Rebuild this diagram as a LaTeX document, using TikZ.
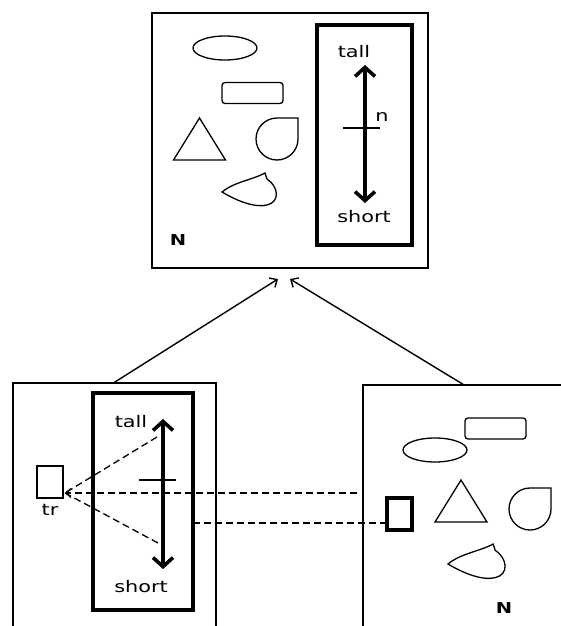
\documentclass[tikz,border=0pt]{standalone}
\usepackage{fontspec}
\newfontfamily\lblfont[FakeStretch=1.3]{DejaVu Sans}
\usetikzlibrary{arrows.meta,fit}

\tikzset{
  box/.style={draw,line width=1.4pt,inner sep=0pt},
  heavybox/.style={draw,line width=3.6pt,inner sep=0pt},
  lbl/.style={font=\lblfont\fontsize{16}{16}\selectfont,inner sep=0pt},
  boldlbl/.style={font=\lblfont\bfseries\fontsize{15}{15}\selectfont,inner sep=0pt},
  scalearrow/.style={line width=3.6pt,{Straight Barb[length=9pt,width=20pt]}-{Straight Barb[length=9pt,width=20pt]}},
  tickline/.style={line width=1.3pt},
  linkarrow/.style={line width=1.4pt,-{Straight Barb[length=6pt,width=11pt]}},
  mapline/.style={line width=1.3pt,dash pattern=on 7pt off 4pt},
  outline/.style={line width=1.3pt},
  ovalshape/.pic={\draw[outline] (0,0) ellipse [x radius=32,y radius=12];},
  barshape/.pic={\draw[outline,rounded corners=3pt] (-30.5,-10.5) rectangle (30.5,10.5);},
  triangleshape/.pic={\draw[outline] (0,-21) -- (26,21) -- (-26,21) -- cycle;},
  % round body with one square corner at the upper right
  dropshape/.pic={\draw[outline] (0,-21) -- (21,-21) -- (21,0)
      .. controls (21,11.6) and (11.6,21) .. (0,21)
      .. controls (-11.6,21) and (-21,11.6) .. (-21,0)
      .. controls (-21,-11.6) and (-11.6,-21) .. (0,-21) -- cycle;},
  blobshape/.pic={\draw[outline] (0,0) .. controls (12,-10) and (30,-12) .. (43,-19)
      -- (45,-13) .. controls (57,-5) and (58,10) .. (45,13)
      .. controls (33,16) and (15,9) .. (0,0) -- cycle;}
}

\begin{document}
\begin{tikzpicture}[x=1pt,y=-1pt]
\useasboundingbox (0,0) rectangle (561,626);
\clip (0,0) rectangle (561,626);

% upper panel
\node[box,fit={(152,13) (428,268)}] (top) {};
\node[heavybox,fit={(317,25) (412,245)}] (topscale) {};
\coordinate (topup) at (365,65);
\coordinate (topdown) at (365,203);
\draw[scalearrow] (topup) -- (topdown);
\coordinate (toptickL) at (343,128);
\coordinate (toptickR) at (380,128);
\draw[tickline] (toptickL) -- (toptickR);
\node[lbl] (toptall) at (354,52) {tall};
\node[lbl] (topshort) at (364,217) {short};
\node[lbl] (topn) at (382,117) {n};
\node[boldlbl] (topN) at (178,240) {N};
\pic at (225,48) {ovalshape};
\pic at (252.5,93) {barshape};
\pic at (199.5,139) {triangleshape};
\pic at (277,139) {dropshape};
\pic at (222,192) {blobshape};

% lower left panel
\node[box,fit={(13,383) (216,650)}] (left) {};
\node[heavybox,fit={(93,393) (193,610)}] (leftscale) {};
\coordinate (leftup) at (163,419);
\coordinate (leftdown) at (163,569);
\draw[scalearrow] (leftup) -- (leftdown);
\coordinate (lefttickL) at (139,480);
\coordinate (lefttickR) at (176,480);
\draw[tickline] (lefttickL) -- (lefttickR);
\node[lbl] (lefttall) at (131,422) {tall};
\node[lbl] (leftshort) at (141,587) {short};
\node[box,fit={(37,466) (63,498)}] (tr) {};
\node[lbl] (trlabel) at (50,510) {tr};

% lower right panel
\node[box,fit={(363,385) (563,650)}] (right) {};
\node[heavybox,fit={(387,498) (412,530)}] (pick) {};
\node[boldlbl] (rightN) at (504,608) {N};
\pic at (495.5,428.5) {barshape};
\pic at (435,450) {ovalshape};
\pic at (461,501) {triangleshape};
\pic at (530,509) {dropshape};
\pic[scale=1.05] at (448,564) {blobshape};

% links up to the upper panel
\coordinate (inL) at (278,279);
\coordinate (inR) at (290,279);
\draw[linkarrow] (left.north) -- (inL);
\draw[linkarrow] (right.north) -- (inR);

% dashed correspondences
\coordinate (trtip) at (65,493);
\coordinate (hiend) at (157,437);
\coordinate (loend) at (158,543);
\coordinate (farend) at (357,493);
\coordinate (scaleexit) at (193,523);
\coordinate (pickentry) at (386,523);
\draw[mapline,-{Straight Barb[length=5pt,width=9pt]}] (farend) -- (trtip);
\draw[mapline] (hiend) -- (trtip);
\draw[mapline] (loend) -- (trtip);
\draw[mapline] (scaleexit) -- (pickentry);
\end{tikzpicture}
\end{document}
